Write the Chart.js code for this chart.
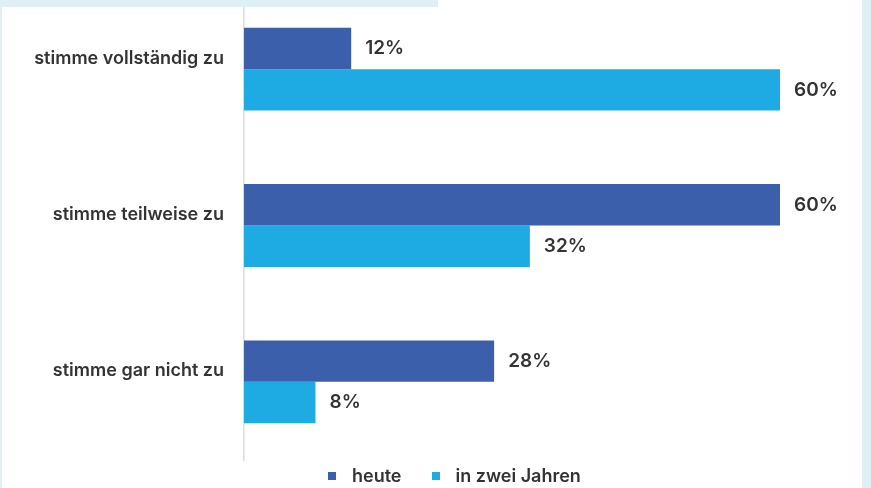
<!DOCTYPE html>
<html>
<head>
<meta charset="utf-8">
<script src="https://cdn.jsdelivr.net/npm/chart.js@4.4.0/dist/chart.umd.min.js"></script>
<style>
  html, body { margin: 0; padding: 0; background: #fff; }
  #wrap { position: relative; width: 871px; height: 488px; overflow: hidden; background: #fff; }
  #chart-box { position: absolute; left: 0; top: -10px; width: 871px; height: 498px; }
  .strip { position: absolute; background: #dfeff6; z-index: 2; }
  #legend {
    position: absolute; left: 328px; top: 465px; display: flex; align-items: center;
    font: 600 18px Inter, sans-serif; color: #333; z-index: 3;
  }
  #legend .item { display: flex; align-items: center; margin-right: 30px; }
  #legend .box { width: 8px; height: 8px; margin-right: 16px; }
</style>
</head>
<body>
<div id="wrap">
  <div id="chart-box"><canvas id="chart"></canvas></div>
  <div class="strip" style="left:0;top:0;width:438px;height:7px"></div>
  <div class="strip" style="left:0;top:0;width:2px;height:488px"></div>
  <div class="strip" style="left:862px;top:0;width:9px;height:488px"></div>
  <div id="legend"></div>
</div>
<script>
const categories = ["stimme vollständig zu", "stimme teilweise zu", "stimme gar nicht zu"];
const seriesNames = ["heute", "in zwei Jahren"];
const heute = [12, 60, 28];
const inZweiJahren = [60, 32, 8];
const seriesColors = ["#3c5fab", "#1eabe3"];

const textFont = { family: "Inter", size: 18, weight: "600" };

// percent labels just right of each bar end
const valueLabels = {
  id: "valueLabels",
  afterDatasetsDraw(chart) {
    const ctx = chart.ctx;
    ctx.save();
    ctx.font = "600 19px Inter";
    ctx.fillStyle = "#333";
    ctx.textBaseline = "middle";
    chart.data.datasets.forEach((ds, i) => {
      chart.getDatasetMeta(i).data.forEach((bar, j) => {
        ctx.fillText(ds.data[j] + "%", bar.x + 14, bar.y);
      });
    });
    ctx.restore();
  }
};

const chart = new Chart(document.getElementById("chart"), {
  type: "bar",
  plugins: [valueLabels],
  data: {
    labels: categories,
    datasets: [
      { label: seriesNames[0], data: heute, backgroundColor: seriesColors[0] },
      { label: seriesNames[1], data: inZweiJahren, backgroundColor: seriesColors[1] }
    ]
  },
  options: {
    indexAxis: "y",
    responsive: true,
    maintainAspectRatio: false,
    animation: false,
    datasets: { bar: { categoryPercentage: 0.53, barPercentage: 1.0 } },
    layout: { padding: { left: 0, right: 91, top: 1, bottom: 28 } },
    plugins: { legend: { display: false }, tooltip: { enabled: false } },
    scales: {
      x: { display: false, min: 0, max: 60 },
      y: {
        grid: { display: false },
        border: { color: "#dcdcdc", width: 1.5 },
        ticks: { color: "#333", font: textFont, padding: 12, labelOffset: -11 },
        afterFit(scale) {
          scale.width = 244;
          scale.paddingTop = 0;
          scale.paddingBottom = 0;
        }
      }
    }
  }
});

// legend built from the datasets
const legend = document.getElementById("legend");
chart.data.datasets.forEach(ds => {
  const item = document.createElement("div");
  item.className = "item";
  const box = document.createElement("span");
  box.className = "box";
  box.style.background = ds.backgroundColor;
  const txt = document.createElement("span");
  txt.textContent = ds.label;
  item.appendChild(box);
  item.appendChild(txt);
  legend.appendChild(item);
});
</script>
</body>
</html>
